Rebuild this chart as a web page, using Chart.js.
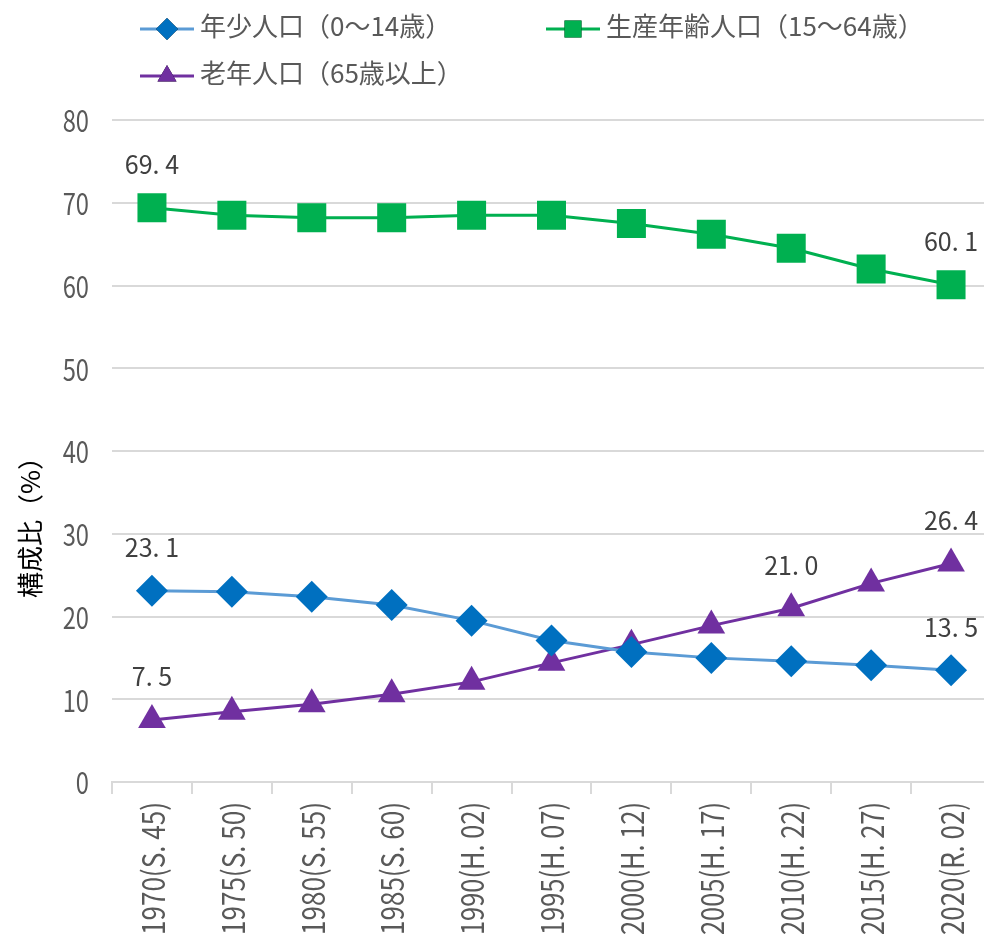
<!DOCTYPE html>
<html lang="ja">
<head>
<meta charset="utf-8">
<script src="https://cdn.jsdelivr.net/npm/chart.js@4"></script>
<style>
  html, body { margin: 0; padding: 0; background: #fff; overflow: hidden; }
  #wrap { position: relative; width: 984px; height: 939px; overflow: hidden; }
  #box { position: absolute; left: 0; top: 0; width: 991px; height: 939px; }
  .legend { position: absolute; left: 0; top: 0; font-family: "Noto Sans CJK JP", sans-serif; font-size: 26px; color: #595959; }
  .lg-item { position: absolute; white-space: nowrap; line-height: 30px; }
  .lg-item canvas { vertical-align: middle; margin-right: 6px; }
</style>
</head>
<body>
<div id="wrap">
  <div id="box"><canvas id="popChart"></canvas></div>
  <div class="legend" id="legend"></div>
</div>
<script>
// ------------------------------------------------------------
// data
// ------------------------------------------------------------
const years = [
  "1970(S. 45)", "1975(S. 50)", "1980(S. 55)", "1985(S. 60)",
  "1990(H. 02)", "1995(H. 07)", "2000(H. 12)", "2005(H. 17)",
  "2010(H. 22)", "2015(H. 27)", "2020(R. 02)"
];
const youth   = [23.1, 23.0, 22.4, 21.4, 19.5, 17.1, 15.7, 15.0, 14.6, 14.1, 13.5];
const working = [69.4, 68.5, 68.2, 68.2, 68.5, 68.5, 67.5, 66.2, 64.5, 62.0, 60.1];
const elderly = [7.5, 8.5, 9.4, 10.6, 12.1, 14.4, 16.6, 18.9, 21.0, 24.0, 26.4];
const seriesNames = ["年少人口（0～14歳）", "生産年齢人口（15～64歳）", "老年人口（65歳以上）"];
// which points carry a value label
const labelIdx = [[0, 10], [0, 10], [0, 8, 10]];

const gray = "#595959";
const jpFont = '"Noto Sans CJK JP", sans-serif';

// ------------------------------------------------------------
// condensed tick labels (the original uses a narrow face)
// ------------------------------------------------------------
const narrowTicks = {
  id: "narrowTicks",
  afterDraw(chart) {
    const ctx = chart.ctx;
    const xs = chart.scales.x;
    const ys = chart.scales.y;
    ctx.save();
    ctx.fillStyle = gray;

    // y ticks
    ctx.font = "30px " + jpFont;
    ctx.textBaseline = "middle";
    ctx.textAlign = "right";
    ys.ticks.forEach((t) => {
      const y = ys.getPixelForValue(t.value);
      ctx.save();
      ctx.translate(89, y + 1);
      ctx.scale(0.79, 1);
      ctx.fillText(String(t.value), 0, 0);
      ctx.restore();
    });

    // x ticks, rotated
    ctx.font = "31px " + jpFont;
    ctx.textAlign = "right";
    ctx.textBaseline = "middle";
    years.forEach((lab, i) => {
      const x = xs.getPixelForValue(i);
      const w = ctx.measureText(lab).width;
      ctx.save();
      ctx.translate(x + 1, xs.top + 20);
      ctx.rotate(-Math.PI / 2);
      ctx.scale(133 / w, 1);
      ctx.fillText(lab, 0, 0);
      ctx.restore();
    });
    ctx.restore();
  },
};

// value labels above selected points
const valueLabels = {
  id: "valueLabels",
  afterDatasetsDraw(chart) {
    const ctx = chart.ctx;
    ctx.save();
    ctx.font = "25px " + jpFont;
    ctx.fillStyle = "#404040";
    ctx.textAlign = "center";
    ctx.textBaseline = "middle";
    chart.data.datasets.forEach((ds, i) => {
      const meta = chart.getDatasetMeta(i);
      labelIdx[i].forEach((j) => {
        const pt = meta.data[j];
        const txt = ds.data[j].toFixed(1).replace(".", ". ");
        ctx.fillText(txt, pt.x, pt.y - 43);
      });
    });
    ctx.restore();
  },
};

// y title drawn at a fixed spot to the left of the axis
const yTitle = {
  id: "yTitle",
  afterDraw(chart) {
    const ctx = chart.ctx;
    ctx.save();
    ctx.translate(30, 521);
    ctx.rotate(-Math.PI / 2);
    ctx.font = "26px " + jpFont;
    ctx.fillStyle = "#000";
    ctx.textAlign = "center";
    ctx.textBaseline = "middle";
    ctx.fillText("構成比（%）", 0, 0);
    ctx.restore();
  },
};

// ------------------------------------------------------------
// chart
// ------------------------------------------------------------
const ctx = document.getElementById("popChart").getContext("2d");
const chart = new Chart(ctx, {
  type: "line",
  data: {
    labels: years,
    datasets: [
      {
        label: seriesNames[0],
        data: youth,
        borderColor: "#5b9bd5",
        borderWidth: 3,
        pointStyle: "rectRot",
        pointRadius: 16,
        pointBorderWidth: 0,
        pointBackgroundColor: "#0070c0",
      },
      {
        label: seriesNames[1],
        data: working,
        borderColor: "#00b050",
        borderWidth: 3,
        pointStyle: "rect",
        pointRadius: 20.5,
        pointBorderWidth: 0,
        pointBackgroundColor: "#00b050",
      },
      {
        label: seriesNames[2],
        data: elderly,
        borderColor: "#7030a0",
        borderWidth: 3,
        pointStyle: "triangle",
        pointRadius: 16,
        pointBorderWidth: 0,
        pointBackgroundColor: "#7030a0",
      },
    ],
  },
  options: {
    responsive: true,
    maintainAspectRatio: false,
    animation: false,
    layout: { autoPadding: false, padding: { top: 120, right: 0, bottom: 0, left: 0 } },
    plugins: {
      legend: { display: false },
      tooltip: { enabled: false },
    },
    scales: {
      x: {
        offset: true,
        afterFit(scale) { scale.height = 157; },
        grid: {
          offset: true,
          drawOnChartArea: false,
          drawTicks: true,
          tickLength: 12,
          color: "#d9d9d9",
          lineWidth: 2,
        },
        border: { color: "#d9d9d9", width: 2 },
        ticks: { display: false, autoSkip: false },
      },
      y: {
        min: 0,
        max: 80,
        afterFit(scale) { scale.width = 112; },
        grid: { color: "#d9d9d9", lineWidth: 2, drawTicks: false },
        border: { display: false },
        ticks: { stepSize: 10, display: false },
      },
    },
  },
  plugins: [narrowTicks, valueLabels, yTitle],
});

// ------------------------------------------------------------
// legend (line + marker, like the original)
// ------------------------------------------------------------
const legendPos = [[140, 10], [546, 10], [140, 57]];
const legendEl = document.getElementById("legend");
chart.data.datasets.forEach((ds, i) => {
  const item = document.createElement("div");
  item.className = "lg-item";
  item.style.left = legendPos[i][0] + "px";
  item.style.top = legendPos[i][1] + "px";
  const c = document.createElement("canvas");
  c.width = 54; c.height = 30;
  const g = c.getContext("2d");
  g.strokeStyle = ds.borderColor;
  g.lineWidth = 3;
  g.beginPath(); g.moveTo(0, 15); g.lineTo(54, 15); g.stroke();
  Chart.helpers.drawPoint(g, {
    pointStyle: ds.pointStyle,
    radius: ds.pointStyle === "rect" ? 12 : 11,
    borderWidth: 0,
  }, 27, 15);
  g.fillStyle = ds.pointBackgroundColor;
  g.fill();
  item.appendChild(c);
  item.appendChild(document.createTextNode(ds.label));
  legendEl.appendChild(item);
});
</script>
</body>
</html>
